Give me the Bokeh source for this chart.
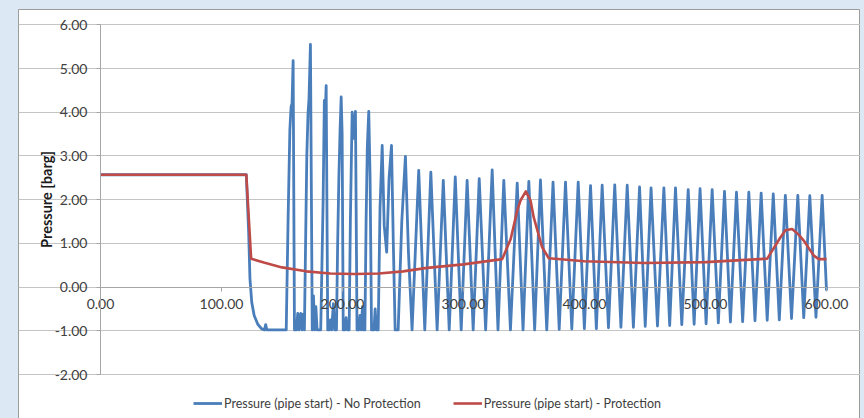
from bokeh.plotting import figure
from bokeh.models import Legend, LegendItem, PrintfTickFormatter, FixedTicker, Range1d
from bokeh.embed import file_html
from bokeh.resources import INLINE

# ---------------- data ----------------
x_ticks = [0, 100, 200, 300, 400, 500, 600]
y_ticks = [-2, -1, 0, 1, 2, 3, 4, 5, 6]

series_names = ["Pressure (pipe start) - No Protection",
                "Pressure (pipe start) - Protection"]

# Protection case
red_time = [0, 120.5, 124.5, 135, 150, 170, 190, 210, 230, 250, 270, 300, 332,
            339, 344.4, 347.1, 351.5, 355.4, 358, 365, 370.5, 400, 450, 500, 551, 562,
            566.1, 571.6, 577, 581, 589.5, 593.6, 600]
red_pressure = [2.57, 2.57, 0.65, 0.56, 0.45, 0.36, 0.31, 0.30, 0.31, 0.36, 0.44,
                0.52, 0.64, 1.10, 1.75, 1.98, 2.19, 1.98, 1.60, 0.91, 0.66, 0.59, 0.55, 0.57,
                0.65, 1.14, 1.30, 1.33, 1.20, 1.07, 0.72, 0.64, 0.64]

# No protection: initial drop and the large early spikes
blue_pre_time = [0, 120.5, 122.5, 123.5, 125, 127, 130, 133, 135.5, 136.5, 137.5, 153.5,
                 155, 156.5, 157.5, 158.3, 159.2, 160.3, 162, 163, 164, 165.5, 166.5, 167.5, 168.5,
                 169.5, 170.5, 171.5, 172.3, 173.5, 175, 176, 177, 178, 179, 182,
                 183, 184, 185, 185.7, 186.5, 187.8, 189, 190, 191, 192.5, 193.5, 195,
                 196, 197, 198, 198.9, 199.7, 200.6, 202, 203, 204, 205.5,
                 206.5, 207.5, 208, 209, 210.7, 212, 213.5, 214.5, 215.5, 216.5, 217.5, 218.5,
                 219.5, 220.5, 221.7, 222.8, 224, 226, 227, 228, 229.5,
                 231, 232.8, 234.5, 236.5, 238.5, 240.5, 242, 243.5, 246,
                 249, 252, 254.5, 257.5]
blue_pre_pressure = [2.57, 2.57, 1.2, 0.2, -0.35, -0.65, -0.85, -0.95, -0.98, -0.86, -0.98, -0.98,
                     1.5, 3.6, 4.12, 4.2, 5.18, -0.98, -0.98, -0.6, -0.98, -0.6, -0.98, -0.62, -0.98,
                     1.0, 3.0, 3.97, 4.3, 5.55, -0.98, -0.2, -0.98, -0.45, -0.98, -0.98,
                     0.5, 2.0, 4.27, 3.9, 4.61, -0.98, -0.98, -0.75, -0.98, -0.38, -0.98, -0.98,
                     1.0, 2.5, 3.6, 4.35, 3.5, -0.98, -0.98, -0.7, -0.98, -0.98,
                     1.5, 3.2, 4.0, 3.4, 4.02, -0.98, -0.98, -0.65, -0.98, -0.45, -0.98, -0.98,
                     1.5, 3.2, 4.02, 2.5, -0.98, -0.98, -0.5, -0.98, -0.98,
                     1.8, 3.24, 1.4, 0.8, 2.5, 3.24, 1.0, -0.98, -0.98,
                     1.5, 2.99, 0.8, -0.98]

# No protection: later oscillation, peaks and troughs
blue_peak_time = [263, 273, 283.3, 293.2, 303, 313, 323.7, 333.3, 344.4, 354, 363.6, 374,
                  384.3, 394.8, 405, 414.6, 425, 435.3, 445.5, 455, 465.6, 475.2, 485.7,
                  495.5, 505.5, 515.7, 525.6, 535.8, 546, 556, 566, 576.3, 586.2, 596.4]
blue_peak_pressure = [2.67, 2.63, 2.44, 2.52, 2.44, 2.48, 2.68, 2.44, 2.38, 2.42, 2.45, 2.40,
                      2.40, 2.40, 2.32, 2.33, 2.34, 2.33, 2.29, 2.27, 2.27, 2.27, 2.23,
                      2.25, 2.23, 2.19, 2.17, 2.17, 2.15, 2.13, 2.10, 2.10, 2.09, 2.10]
blue_trough_time = [268, 278.2, 288.2, 298.1, 308, 318.3, 328.5, 338.8, 349.2, 358.8, 368.8,
                    379.1, 389.5, 399.9, 409.8, 419.8, 430.1, 440.4, 450.2, 460.3, 470.4,
                    480.4, 490.6, 500.5, 510.6, 520.6, 530.7, 540.9, 551, 561, 571.1,
                    581.2, 591.3, 600]
blue_trough_pressure = [-0.98, -0.98, -0.98, -0.98, -0.98, -0.98, -0.98, -0.98, -0.98, -0.98, -0.98,
                        -0.97, -0.96, -0.95, -0.95, -0.93, -0.92, -0.92, -0.90, -0.89, -0.88,
                        -0.86, -0.85, -0.84, -0.82, -0.80, -0.79, -0.77, -0.76, -0.75, -0.72,
                        -0.70, -0.69, -0.08]

# ---------------- assemble blue series ----------------
osc = sorted(zip(blue_peak_time + blue_trough_time, blue_peak_pressure + blue_trough_pressure))
blue_time = blue_pre_time + [t for t, _ in osc]
blue_pressure = blue_pre_pressure + [v for _, v in osc]

TEXT = "#404040"
FONT = "Lato"

# Canvas = whole chart area (page x 18..860, y 9..419); the plot frame fills it,
# and the ranges are widened so that 0..600 / -2..6 land where the reference has them.
W, H = 842, 410
PX_X = 726 / 600.0          # pixels per second
PX_Y = 349.7 / 8.0          # pixels per barg
x_lo = -82 / PX_X
x_hi = 600 + 34 / PX_X
y_hi = 6 + 15.3 / PX_Y
y_lo = -2 - (H - 15.3 - 349.7) / PX_Y

p = figure(width=W, height=H, output_backend="svg", toolbar_location=None,
           x_range=Range1d(x_lo, x_hi), y_range=Range1d(y_lo, y_hi),
           min_border_left=0, min_border_right=0, min_border_top=0, min_border_bottom=0)
p.margin = (9, 0, 0, 18)
p.outline_line_color = "#9c9c9c"
p.outline_line_width = 1
p.background_fill_color = "white"
p.border_fill_color = "white"

# grid
p.xgrid.visible = False
p.ygrid.ticker = FixedTicker(ticks=y_ticks)
p.ygrid.bounds = (0, 600)
p.ygrid.grid_line_color = "#c4c4c4"
p.ygrid.grid_line_width = 1

# x axis crossing at y = 0
xa = p.xaxis[0]
xa.fixed_location = 0
xa.bounds = (0, 600)
xa.ticker = FixedTicker(ticks=x_ticks)
xa.formatter = PrintfTickFormatter(format="%.2f")
xa.axis_line_color = "#a6a6a6"
xa.major_tick_line_color = "#a6a6a6"
xa.major_tick_out = 4
xa.major_tick_in = 0
xa.minor_tick_line_color = None
xa.major_label_standoff = 8
xa.major_label_text_font = FONT
xa.major_label_text_font_size = "14px"
xa.major_label_text_color = TEXT

# y axis crossing at x = 0
ya = p.yaxis[0]
ya.fixed_location = 0
ya.bounds = (-2, 6)
ya.ticker = FixedTicker(ticks=y_ticks)
ya.formatter = PrintfTickFormatter(format="%.2f")
ya.axis_line_color = "#a6a6a6"
ya.major_tick_line_color = "#a6a6a6"
ya.major_tick_out = 4
ya.major_tick_in = 0
ya.minor_tick_line_color = None
ya.major_label_standoff = 9
ya.major_label_text_font = FONT
ya.major_label_text_font_size = "14px"
ya.major_label_text_color = TEXT
ya.axis_label = "Pressure [barg]"
ya.axis_label_text_font = FONT
ya.axis_label_text_font_style = "bold"
ya.axis_label_text_font_size = "14.5px"
ya.axis_label_text_color = "#1a1a1a"
ya.axis_label_standoff = -3

rb = p.line(blue_time, blue_pressure, line_color="#4a7ebb", line_width=2.8, line_join="round")
rr = p.line(red_time, red_pressure, line_color="#be4b48", line_width=2.6, line_join="round")

legend = Legend(items=[LegendItem(label=series_names[0], renderers=[rb]),
                       LegendItem(label=series_names[1], renderers=[rr])],
                orientation="horizontal", location=(175, 8))
legend.border_line_color = None
legend.background_fill_alpha = 0
legend.padding = 0
legend.margin = 0
legend.spacing = 32
legend.glyph_width = 29
legend.glyph_height = 16
legend.label_height = 16
legend.label_standoff = 2
legend.label_text_font = FONT
legend.label_text_font_size = "12.5px"
legend.label_text_color = TEXT
p.add_layout(legend, "center")

html = file_html(p, INLINE, title="Pressure")
html = html.replace("</head>",
                    "<style>html, body { background-color: #dce8f4; overflow: hidden; }</style></head>", 1)
open("out.html", "w").write(html)
